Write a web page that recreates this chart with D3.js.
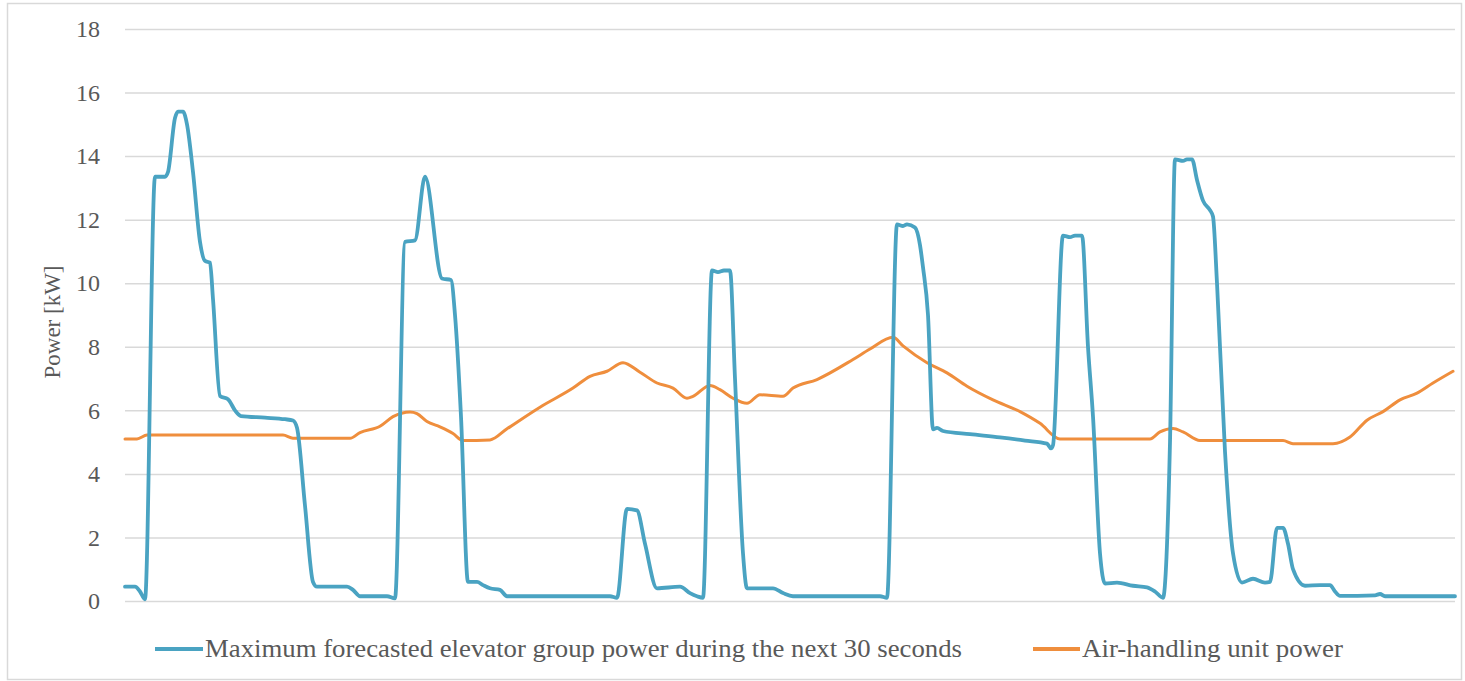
<!DOCTYPE html>
<html>
<head>
<meta charset="utf-8">
<script src="https://cdn.jsdelivr.net/npm/d3@7/dist/d3.min.js"></script>
<style>
  html, body { margin: 0; padding: 0; background: #ffffff; }
  svg { display: block; }
</style>
</head>
<body>
<svg id="chart" width="1465" height="681"></svg>
<script>
// Time steps of the recording (arbitrary sample index) and power readings in kW.
const elevatorTime = [0, 10, 15, 20, 30, 40, 43, 50, 53, 58, 62, 68, 75, 80, 85, 88, 95, 103, 110, 116, 140, 160, 168, 172, 180, 188, 192,
  222, 228, 235, 262, 270, 280, 290, 300, 317, 326, 330, 336, 343, 352, 358, 365, 375, 382, 485, 492, 502, 512, 520, 532, 555, 565, 572, 578,
  587, 593, 599, 605, 610, 618, 622, 648, 658, 668, 755, 762, 772, 778, 782, 790, 795, 798, 803, 808, 812, 818, 845, 875, 900, 922, 926, 928,
  938, 945, 950, 957, 963, 968, 975, 980, 992, 1008, 1022, 1030, 1038, 1045, 1050, 1058, 1062, 1067, 1072, 1078, 1085, 1088, 1092, 1100,
  1108, 1117, 1128, 1140, 1145, 1152, 1158, 1163, 1168, 1180, 1195, 1205, 1210, 1215, 1250, 1255, 1260, 1330];
const elevatorPower = [0.45, 0.45, 0.3, 0.05, 13.35, 13.35, 13.5, 15.2, 15.4, 15.4, 15.0, 13.5, 11.3, 10.7, 10.65, 9.5, 6.45, 6.35, 6.0, 5.82,
  5.77, 5.72, 5.68, 5.45, 3.0, 0.6, 0.45, 0.45, 0.35, 0.15, 0.15, 0.08, 11.3, 11.35, 13.35, 10.15, 10.1, 9.0, 5.8, 0.6, 0.6, 0.5, 0.4, 0.35, 0.15,
  0.15, 0.1, 2.9, 2.85, 1.8, 0.4, 0.45, 0.25, 0.15, 0.1, 10.4, 10.35, 10.4, 10.4, 7.0, 1.5, 0.4, 0.4, 0.25, 0.15, 0.15, 0.1, 11.85, 11.8, 11.85,
  11.75, 11.2, 10.5, 9.0, 5.4, 5.45, 5.35, 5.25, 5.15, 5.05, 4.95, 4.8, 4.9, 11.5, 11.45, 11.5, 11.5, 8.0, 5.8, 1.5, 0.55, 0.58, 0.48, 0.43,
  0.3, 0.1, 5.0, 13.9, 13.85, 13.9, 13.9, 13.25, 12.6, 12.3, 12.1, 10.0, 4.7, 1.5, 0.58, 0.7, 0.58, 0.6, 2.3, 2.3, 1.8, 1.0, 0.48, 0.5, 0.5,
  0.3, 0.16, 0.18, 0.22, 0.15, 0.15];

const ahuTime = [0, 12, 22, 158, 168, 225, 235, 255, 268, 285, 292, 302, 315, 328, 338, 365, 382, 415, 448, 465, 482, 498, 515, 532, 548, 562,
  568, 585, 595, 608, 622, 635, 658, 668, 692, 728, 745, 768, 778, 802, 822, 842, 868, 895, 915, 935, 1025, 1035, 1048, 1058, 1075, 1158,
  1168, 1208, 1225, 1242, 1258, 1275, 1292, 1308, 1328];
const ahuPower = [5.1, 5.1, 5.22, 5.22, 5.12, 5.12, 5.3, 5.5, 5.8, 5.95, 5.9, 5.65, 5.48, 5.27, 5.05, 5.07, 5.42, 6.1, 6.7, 7.07, 7.23, 7.5,
  7.2, 6.86, 6.7, 6.38, 6.44, 6.78, 6.65, 6.38, 6.22, 6.49, 6.44, 6.7, 6.97, 7.6, 7.93, 8.3, 8.03, 7.5, 7.18, 6.76, 6.33, 5.96, 5.59, 5.1,
  5.1, 5.32, 5.43, 5.32, 5.05, 5.05, 4.95, 4.95, 5.16, 5.69, 5.96, 6.33, 6.54, 6.86, 7.23];

const yTicks = [0, 2, 4, 6, 8, 10, 12, 14, 16, 18];
const yTitle = "Power [kW]";
const seriesNames = ["Maximum forecasted elevator group power during the next 30 seconds", "Air-handling unit power"];
const seriesColors = ["#4aa3c2", "#ef8e3d"];

const svg = d3.select("#chart");
const W = 1465, H = 681;
const plot = { left: 125, right: 1455, top: 29, bottom: 601 };
const serif = "'Liberation Serif', 'Times New Roman', serif";

// outer frame
svg.append("rect")
  .attr("x", 7.5).attr("y", 3.5)
  .attr("width", W - 11).attr("height", H - 5)
  .attr("fill", "#fff")
  .attr("stroke", "#d9d9d9").attr("stroke-width", 1.5);

const x = d3.scaleLinear().domain([0, 1330]).range([plot.left, plot.right]);
const y = d3.scaleLinear().domain([0, 18]).range([plot.bottom, plot.top]);

// gridlines + tick labels
const yAxis = d3.axisLeft(y)
  .tickValues(yTicks)
  .tickSize(-(plot.right - plot.left))
  .tickPadding(25)
  .tickFormat(d3.format("d"));

const gAxis = svg.append("g")
  .attr("transform", `translate(${plot.left},0)`)
  .call(yAxis);
gAxis.select(".domain").remove();
gAxis.selectAll(".tick line")
  .attr("stroke", "#d9d9d9").attr("stroke-width", 1.5);
gAxis.selectAll(".tick text")
  .attr("fill", "#595959")
  .attr("font-family", serif)
  .attr("font-size", 24);

// y axis title
svg.append("text")
  .attr("transform", `translate(60,322) rotate(-90)`)
  .attr("text-anchor", "middle")
  .attr("fill", "#595959")
  .attr("font-family", serif)
  .attr("font-size", 23)
  .text(yTitle);

// series lines
const line = d3.line()
  .x(d => x(d[0]))
  .y(d => y(d[1]))
  .curve(d3.curveMonotoneX);

const elevatorData = d3.zip(elevatorTime, elevatorPower);
const ahuData = d3.zip(ahuTime, ahuPower);

svg.append("path")
  .datum(ahuData)
  .attr("fill", "none")
  .attr("stroke", seriesColors[1])
  .attr("stroke-width", 3)
  .attr("stroke-linejoin", "round")
  .attr("stroke-linecap", "round")
  .attr("d", line);

svg.append("path")
  .datum(elevatorData)
  .attr("fill", "none")
  .attr("stroke", seriesColors[0])
  .attr("stroke-width", 3.8)
  .attr("stroke-linejoin", "round")
  .attr("stroke-linecap", "round")
  .attr("d", line);

// legend
const legendItems = [
  { x0: 155, x1: 203, tx: 205, len: 757 },
  { x0: 1033, x1: 1080, tx: 1082, len: 261 }
];
const legend = svg.append("g");
legendItems.forEach((it, i) => {
  legend.append("line")
    .attr("x1", it.x0).attr("x2", it.x1)
    .attr("y1", 649).attr("y2", 649)
    .attr("stroke", seriesColors[i]).attr("stroke-width", 3.8);
  legend.append("text")
    .attr("x", it.tx).attr("y", 657)
    .attr("fill", "#595959")
    .attr("font-family", serif)
    .attr("font-size", 25)
    .attr("textLength", it.len)
    .attr("lengthAdjust", "spacingAndGlyphs")
    .text(seriesNames[i]);
});
</script>
</body>
</html>
